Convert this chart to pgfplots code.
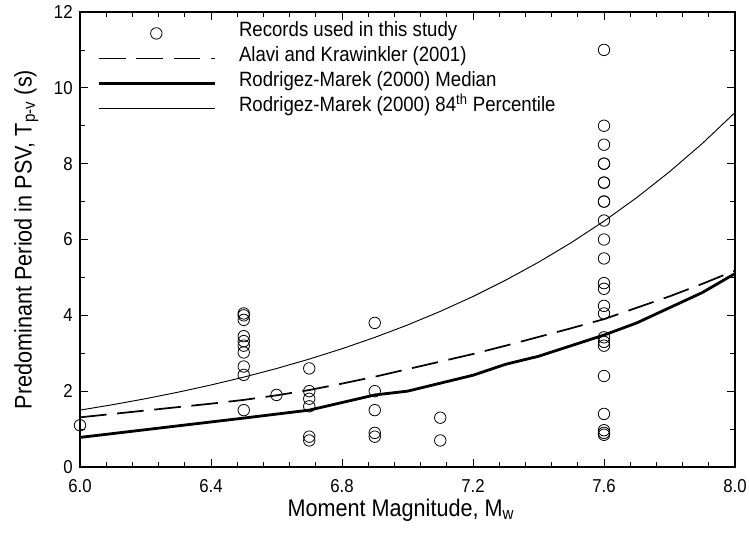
\documentclass[border=0pt]{standalone}
\usepackage{fontspec}
\setmainfont[FakeStretch=0.9]{Liberation Sans}
\usepackage{pgfplots}
\pgfplotsset{compat=1.18}
\begin{document}
\begin{tikzpicture}
\useasboundingbox (-60pt,-51pt) rectangle (501.75pt,350.25pt);
\begin{axis}[
  at={(0,0)}, anchor=south west,
  scale only axis, width=491.25pt, height=341.25pt,
  xmin=6, xmax=8, ymin=0, ymax=12,
  xtick={6,6.4,6.8,7.2,7.6,8}, minor x tick num=4,
  ytick={0,2,4,6,8,10,12}, minor y tick num=1,
  tick align=inside,
  major tick length=6pt, minor tick length=3.5pt,
  every tick/.style={black, line width=0.6pt},
  axis line style={line width=0.9pt},
  /pgf/number format/assume math mode=true,
  xticklabel style={yshift=-6pt, /pgf/number format/fixed, /pgf/number format/fixed zerofill, /pgf/number format/precision=1},
  ticklabel style={font=\fontsize{14}{17}\selectfont},
  yticklabel style={xshift=-2pt},
  xlabel={Moment Magnitude, M\textsubscript{w}},
  ylabel={Predominant Period in PSV, T\textsubscript{p-v} (s)},
  every axis x label/.style={at={(axis description cs:0.49,-0.108)}, anchor=base, font=\fontsize{18}{21}\selectfont},
  every axis y label/.style={at={(axis description cs:-0.082,0.5)}, anchor=center, rotate=90, font=\fontsize{18}{21}\selectfont},
  legend style={draw=none, fill=none, at={(0,1)}, anchor=north west,
    xshift=10pt, yshift=-4.5pt,
    font=\fontsize{15.5}{18.75}\selectfont, column sep=15pt, row sep=0pt,
    nodes={inner ysep=0pt, text height=12pt, text depth=6.75pt}},
  legend cell align=left,
  legend image code/.code={\draw[mark repeat=2,mark phase=2,#1] plot coordinates {(0pt,0pt) (43pt,0pt) (87pt,0pt)};},
]
\addplot[only marks, mark=o, mark size=4.3pt, mark options={line width=0.6pt}] coordinates {
(6.0,1.1)
(6.5,4.05)(6.5,4.0)(6.5,3.88)(6.5,3.45)(6.5,3.32)(6.5,3.2)(6.5,3.02)(6.5,2.65)(6.5,2.43)(6.5,1.5)
(6.6,1.9)
(6.7,2.6)(6.7,2.0)(6.7,1.8)(6.7,1.6)(6.7,0.8)(6.7,0.7)
(6.9,3.8)(6.9,2.0)(6.9,1.5)(6.9,0.9)(6.9,0.8)
(7.1,1.3)(7.1,0.7)
(7.6,11.0)(7.6,9.0)(7.6,8.5)(7.6,8.0)(7.6,8.0)(7.6,7.5)(7.6,7.5)(7.6,7.0)(7.6,7.0)(7.6,6.5)(7.6,6.0)(7.6,5.5)
(7.6,4.85)(7.6,4.7)(7.6,4.25)(7.6,4.05)(7.6,3.42)(7.6,3.3)(7.6,3.2)(7.6,2.4)(7.6,1.4)(7.6,0.97)(7.6,0.9)(7.6,0.85)
};
\addlegendentry{Records used in this study}
\addplot[black, line width=1.3pt, dash pattern=on 20pt off 8pt] coordinates {
(6.0,1.31)(6.1,1.40)(6.2,1.49)(6.3,1.58)(6.4,1.67)(6.5,1.77)(6.6,1.89)(6.7,2.03)(6.8,2.20)(6.9,2.38)(7.0,2.58)
(7.1,2.78)(7.2,2.98)(7.3,3.20)(7.4,3.43)(7.5,3.66)(7.6,3.90)(7.7,4.20)(7.8,4.50)(7.9,4.83)(8.0,5.18)
};
\addlegendentry{Alavi and Krawinkler (2001)}
\addplot[black, line width=2.1pt] coordinates {
(6.0,0.78)(6.5,1.29)(6.7,1.5)(6.9,1.9)(7.0,2.0)(7.2,2.42)(7.3,2.71)(7.4,2.92)(7.5,3.2)(7.6,3.48)(7.7,3.8)(7.8,4.2)(7.9,4.6)(8.0,5.1)
};
\addlegendentry{Rodrigez-Marek (2000) Median}
\addplot[black, line width=0.7pt] coordinates {
(6.0,1.50)(6.1,1.644)(6.2,1.801)(6.3,1.974)(6.4,2.163)(6.5,2.370)(6.6,2.597)(6.7,2.846)(6.8,3.119)(6.9,3.418)(7.0,3.745)
(7.1,4.104)(7.2,4.497)(7.3,4.928)(7.4,5.400)(7.5,5.917)(7.6,6.484)(7.7,7.105)(7.8,7.786)(7.9,8.531)(8.0,9.349)
};
\addlegendentry{Rodrigez-Marek (2000) 84\textsuperscript{th} Percentile}
\end{axis}
\end{tikzpicture}
\end{document}
